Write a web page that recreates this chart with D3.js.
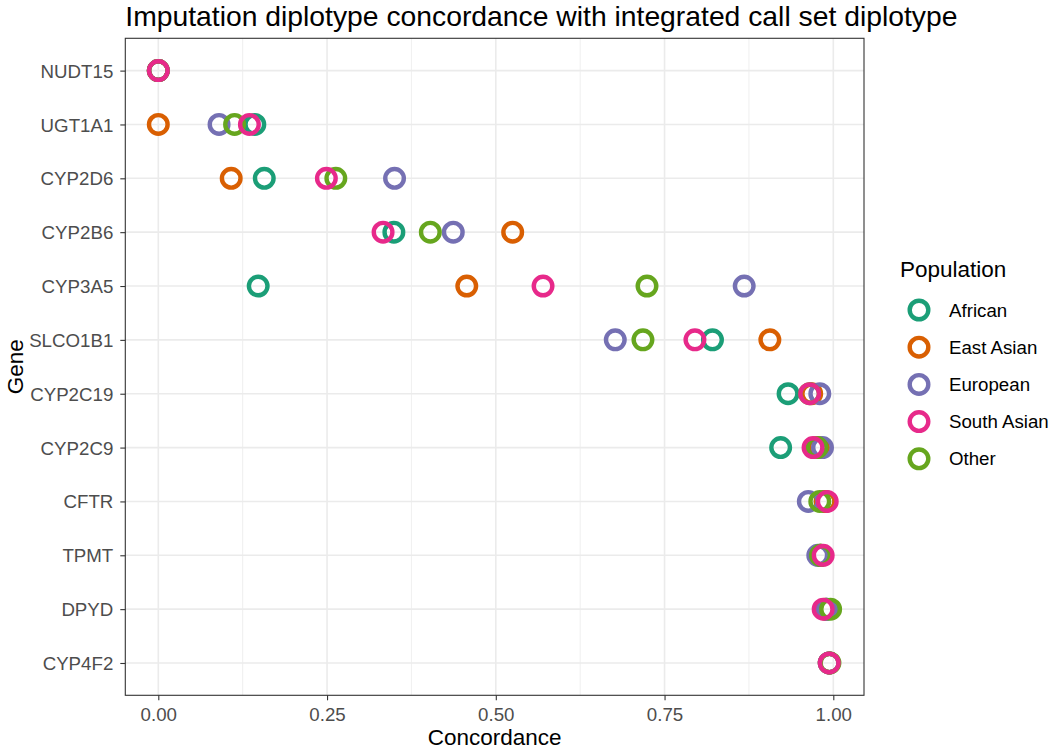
<!DOCTYPE html>
<html><head><meta charset="utf-8">
<script src="https://cdn.jsdelivr.net/npm/d3@7"></script>
<style>body{margin:0;background:#fff}svg{display:block;font-family:"Liberation Sans",Arial,sans-serif}</style>
</head><body>
<svg id="c" width="1050" height="748"></svg>
<script>
const genes = ["NUDT15","UGT1A1","CYP2D6","CYP2B6","CYP3A5","SLCO1B1","CYP2C19","CYP2C9","CFTR","TPMT","DPYD","CYP4F2"];
const populations = ["African","East Asian","European","Other","South Asian"];
const legendOrder = ["African","East Asian","European","South Asian","Other"];
const colors = {"African":"#1B9E77","East Asian":"#D95F02","European":"#7570B3","South Asian":"#E7298A","Other":"#66A61E"};
const african    = [0.000,0.143,0.157,0.349,0.148,0.821,0.933,0.922,0.988,0.981,0.990,0.994];
const eastAsian  = [0.000,0.000,0.108,0.525,0.457,0.906,0.968,0.978,0.988,0.981,0.988,0.994];
const european   = [0.000,0.090,0.350,0.437,0.868,0.677,0.980,0.984,0.963,0.977,0.990,0.994];
const southAsian = [0.000,0.135,0.249,0.333,0.570,0.795,0.965,0.970,0.991,0.985,0.985,0.994];
const other      = [0.000,0.113,0.263,0.403,0.724,0.718,0.965,0.976,0.980,0.981,0.996,0.995];
const xTicks = [0,0.25,0.5,0.75,1];
const xMinor = [0.125,0.375,0.625,0.875];
const series = {"African":african,"East Asian":eastAsian,"European":european,"South Asian":southAsian,"Other":other};

const svg = d3.select("#c");
const L = 125.3, R = 864, T = 38.3, B = 695.3;
const x0 = 158.3, x1 = 833.3;
const x = d3.scaleLinear().domain([0,1]).range([x0,x1]);
const y = d3.scalePoint().domain(genes).range([T,B]).padding(0.6);

// panel grid
const g = svg.append("g");
g.selectAll(".minx").data(xMinor).join("line")
  .attr("x1",d=>x(d)).attr("x2",d=>x(d)).attr("y1",T).attr("y2",B)
  .attr("stroke","#EBEBEB").attr("stroke-width",0.8);
g.selectAll(".majx").data(xTicks).join("line")
  .attr("x1",d=>x(d)).attr("x2",d=>x(d)).attr("y1",T).attr("y2",B)
  .attr("stroke","#EBEBEB").attr("stroke-width",1.6);
g.selectAll(".majy").data(genes).join("line")
  .attr("x1",L).attr("x2",R).attr("y1",d=>y(d)).attr("y2",d=>y(d))
  .attr("stroke","#EBEBEB").attr("stroke-width",1.6);

// points
const pts = [];
populations.forEach(p => genes.forEach((gn,i)=>pts.push({pop:p,gene:gn,v:series[p][i]})));
svg.append("g").selectAll("circle").data(pts).join("circle")
  .attr("cx",d=>x(d.v)).attr("cy",d=>y(d.gene)).attr("r",9.3)
  .attr("fill","none").attr("stroke",d=>colors[d.pop]).attr("stroke-width",4.4);

// border
svg.append("rect").attr("x",L).attr("y",T).attr("width",R-L).attr("height",B-T)
  .attr("fill","none").attr("stroke","#333333").attr("stroke-width",1.1);

// axes
const xAxis = svg.append("g").attr("transform",`translate(0,${B})`)
  .call(d3.axisBottom(x).tickValues(xTicks).tickFormat(d3.format(".2f")).tickSize(5).tickPadding(3));
const yAxis = svg.append("g").attr("transform",`translate(${L},0)`)
  .call(d3.axisLeft(y).tickSize(5).tickPadding(7));
[xAxis,yAxis].forEach(a=>{
  a.select(".domain").remove();
  a.selectAll(".tick line").attr("stroke","#333333").attr("stroke-width",1.1);
  a.selectAll(".tick text").attr("fill","#4D4D4D").style("font-size","18.7px").style("font-family","'Liberation Sans',Arial,sans-serif");
});
xAxis.selectAll(".tick text").attr("dy",null).attr("y",25.4);
yAxis.selectAll(".tick text").attr("dy","0.35em");

// titles
svg.append("text").attr("x",L).attr("y",26).text("Imputation diplotype concordance with integrated call set diplotype")
  .style("font-size","28.3px").attr("fill","#000");
svg.append("text").attr("x",(L+R)/2).attr("y",744.5).attr("text-anchor","middle").text("Concordance")
  .style("font-size","22.5px").attr("fill","#000");
svg.append("text").attr("transform",`translate(23,${(T+B)/2}) rotate(-90)`).attr("text-anchor","middle").text("Gene")
  .style("font-size","22.5px").attr("fill","#000");

// legend
svg.append("text").attr("x",900).attr("y",277).text("Population").style("font-size","22.5px").attr("fill","#000");
const lg = svg.append("g").selectAll("g").data(legendOrder).join("g")
  .attr("transform",(d,i)=>`translate(919,${310+i*37.2})`);
lg.append("circle").attr("r",9.3).attr("fill","none").attr("stroke",d=>colors[d]).attr("stroke-width",4.4);
lg.append("text").attr("x",30).attr("dy","0.35em").text(d=>d).style("font-size","18.7px").attr("fill","#000");
</script>
</body></html>
